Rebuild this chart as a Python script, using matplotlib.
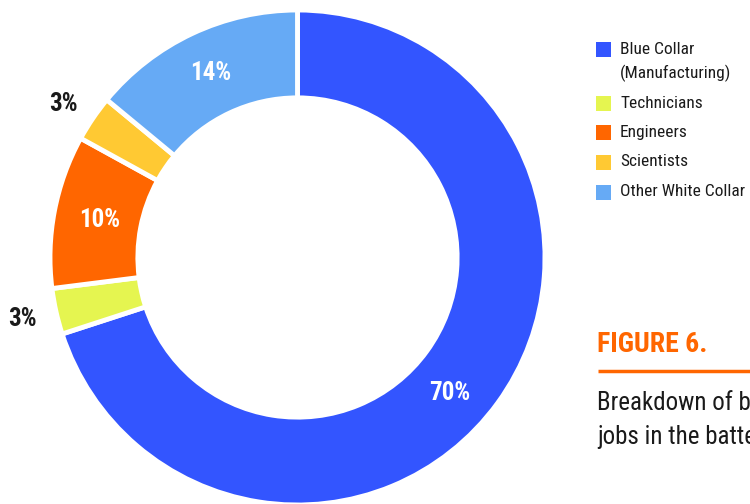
import numpy as np
import matplotlib
matplotlib.use("Agg")
import matplotlib.pyplot as plt
from matplotlib.patches import Rectangle
from matplotlib import font_manager

names = sorted({f.name for f in font_manager.fontManager.ttflist})
pref = [n for n in ['Roboto Condensed', 'Liberation Sans Narrow', 'Open Sans Condensed', 'Roboto'] if n in names]
plt.rcParams['font.family'] = pref + ['DejaVu Sans']

categories = ["Blue Collar\n(Manufacturing)", "Technicians", "Engineers", "Scientists", "Other White Collar"]
values = [70, 3, 10, 3, 14]
pct_labels = ["70%", "3%", "10%", "3%", "14%"]
colors = ["#3355FF", "#E5F550", "#FF6600", "#FFC933", "#66AAF5"]

W, H = 750, 504
fig = plt.figure(figsize=(7.5, 5.04), dpi=100)
ax = fig.add_axes([0, 0, 1, 1])

cx, cy = 297.5, H - 257.5
R = 247.5
ring = 0.355
wedges, _ = ax.pie(values, colors=colors, startangle=90, counterclock=False,
                   center=(cx, cy), radius=R, frame=True,
                   wedgeprops=dict(width=R * ring, edgecolor='white', linewidth=3.5))
ax.set_xlim(0, W)
ax.set_ylim(0, H)
ax.set_aspect('equal')
ax.axis('off')

# percentage labels
label_r = [204, 282, 201, 280, 204]
label_dang = [-5.6, 0, 0, 1, 0]
inside = [True, False, True, False, True]
for w, lab, r, da, ins in zip(wedges, pct_labels, label_r, label_dang, inside):
    ang = np.deg2rad((w.theta1 + w.theta2) / 2 + da)
    x = cx + r * np.cos(ang)
    y = cy + r * np.sin(ang)
    ax.text(x, y, lab, ha='center', va='center', fontsize=18, fontweight='bold',
            color='white' if ins else '#1a1a1a')

# legend
leg_y = [49, 103, 132, 162, 192]
for lab, col, yy in zip(categories, colors, leg_y):
    ax.add_patch(Rectangle((596, H - yy - 7.5), 15, 15, facecolor=col, edgecolor='none', clip_on=False))
    lines = lab.split('\n')
    for i, ln in enumerate(lines):
        ax.text(620, H - yy - 24 * i, ln, ha='left', va='center', fontsize=12.5, color='#1a1a1a')

# figure caption
ax.text(597, H - 345, "FIGURE 6.", ha='left', va='center', fontsize=20, fontweight='bold', color='#FF6600')
ax.plot([598, 760], [H - 371, H - 371], color='#FF6600', linewidth=2.5, clip_on=False, solid_capstyle='butt')
ax.text(597, H - 403, "Breakdown of battery", ha='left', va='center', fontsize=18, color='#1a1a1a')
ax.text(597, H - 437, "jobs in the battery supply chain", ha='left', va='center', fontsize=18, color='#1a1a1a')

fig.savefig("out.png", dpi=100, facecolor='white')
